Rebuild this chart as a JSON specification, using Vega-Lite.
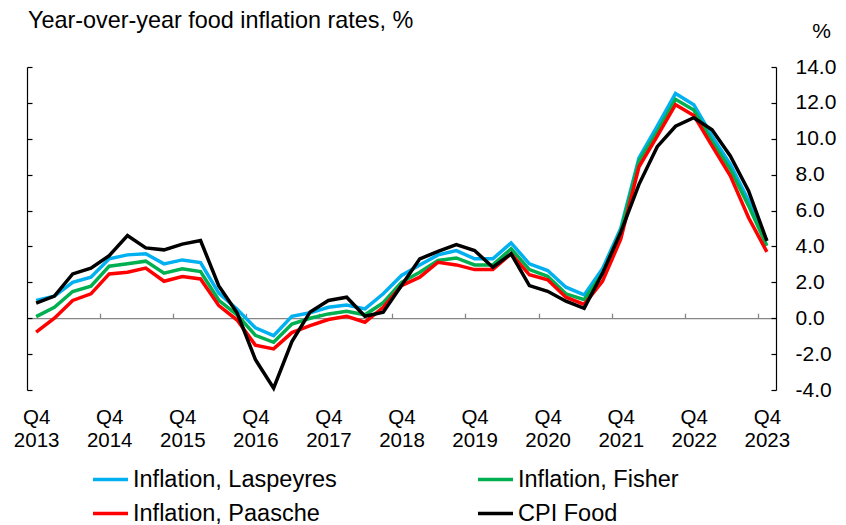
{
  "$schema": "https://vega.github.io/schema/vega-lite/v6.json",
  "width": 749,
  "height": 323,
  "autosize": {"type": "none"},
  "padding": {"left": 27, "top": 67, "right": 70, "bottom": 135},
  "config": {
    "font": "Liberation Sans",
    "view": {"stroke": null},
    "axis": {"grid": false, "labelColor": "black", "titleColor": "black"}
  },
  "title": {
    "text": "Year-over-year food inflation rates, %",
    "anchor": "start",
    "frame": "group",
    "fontSize": 23.4,
    "fontWeight": "normal",
    "color": "black",
    "baseline": "alphabetic",
    "offset": 4,
    "dx": 1,
    "dy": 35
  },
  "data": {
    "values": [
      {"idx": 0, "quarter": "2013Q4", "Inflation, Laspeyres": 0.99, "Inflation, Fisher": 0.09, "Inflation, Paasche": -0.78, "CPI Food": 0.84},
      {"idx": 1, "quarter": "2014Q1", "Inflation, Laspeyres": 1.23, "Inflation, Fisher": 0.61, "Inflation, Paasche": 0.0, "CPI Food": 1.23},
      {"idx": 2, "quarter": "2014Q2", "Inflation, Laspeyres": 2.0, "Inflation, Fisher": 1.49, "Inflation, Paasche": 0.99, "CPI Food": 2.47},
      {"idx": 3, "quarter": "2014Q3", "Inflation, Laspeyres": 2.29, "Inflation, Fisher": 1.78, "Inflation, Paasche": 1.36, "CPI Food": 2.79},
      {"idx": 4, "quarter": "2014Q4", "Inflation, Laspeyres": 3.31, "Inflation, Fisher": 2.9, "Inflation, Paasche": 2.47, "CPI Food": 3.49},
      {"idx": 5, "quarter": "2015Q1", "Inflation, Laspeyres": 3.53, "Inflation, Fisher": 3.03, "Inflation, Paasche": 2.56, "CPI Food": 4.61},
      {"idx": 6, "quarter": "2015Q2", "Inflation, Laspeyres": 3.59, "Inflation, Fisher": 3.18, "Inflation, Paasche": 2.79, "CPI Food": 3.92},
      {"idx": 7, "quarter": "2015Q3", "Inflation, Laspeyres": 3.03, "Inflation, Fisher": 2.51, "Inflation, Paasche": 2.06, "CPI Food": 3.81},
      {"idx": 8, "quarter": "2015Q4", "Inflation, Laspeyres": 3.25, "Inflation, Fisher": 2.75, "Inflation, Paasche": 2.32, "CPI Food": 4.13},
      {"idx": 9, "quarter": "2016Q1", "Inflation, Laspeyres": 3.1, "Inflation, Fisher": 2.6, "Inflation, Paasche": 2.19, "CPI Food": 4.33},
      {"idx": 10, "quarter": "2016Q2", "Inflation, Laspeyres": 1.4, "Inflation, Fisher": 1.0, "Inflation, Paasche": 0.7, "CPI Food": 1.8},
      {"idx": 11, "quarter": "2016Q3", "Inflation, Laspeyres": 0.5, "Inflation, Fisher": 0.19, "Inflation, Paasche": -0.1, "CPI Food": 0.3},
      {"idx": 12, "quarter": "2016Q4", "Inflation, Laspeyres": -0.53, "Inflation, Fisher": -0.95, "Inflation, Paasche": -1.5, "CPI Food": -2.3},
      {"idx": 13, "quarter": "2017Q1", "Inflation, Laspeyres": -0.97, "Inflation, Fisher": -1.34, "Inflation, Paasche": -1.71, "CPI Food": -3.9},
      {"idx": 14, "quarter": "2017Q2", "Inflation, Laspeyres": 0.11, "Inflation, Fisher": -0.32, "Inflation, Paasche": -0.8, "CPI Food": -1.3},
      {"idx": 15, "quarter": "2017Q3", "Inflation, Laspeyres": 0.3, "Inflation, Fisher": 0.0, "Inflation, Paasche": -0.41, "CPI Food": 0.35},
      {"idx": 16, "quarter": "2017Q4", "Inflation, Laspeyres": 0.61, "Inflation, Fisher": 0.24, "Inflation, Paasche": -0.07, "CPI Food": 0.99},
      {"idx": 17, "quarter": "2018Q1", "Inflation, Laspeyres": 0.74, "Inflation, Fisher": 0.39, "Inflation, Paasche": 0.11, "CPI Food": 1.17},
      {"idx": 18, "quarter": "2018Q2", "Inflation, Laspeyres": 0.52, "Inflation, Fisher": 0.19, "Inflation, Paasche": -0.22, "CPI Food": 0.11},
      {"idx": 19, "quarter": "2018Q3", "Inflation, Laspeyres": 1.36, "Inflation, Fisher": 0.86, "Inflation, Paasche": 0.61, "CPI Food": 0.33},
      {"idx": 20, "quarter": "2018Q4", "Inflation, Laspeyres": 2.38, "Inflation, Fisher": 2.0, "Inflation, Paasche": 1.82, "CPI Food": 1.82},
      {"idx": 21, "quarter": "2019Q1", "Inflation, Laspeyres": 2.97, "Inflation, Fisher": 2.56, "Inflation, Paasche": 2.29, "CPI Food": 3.31},
      {"idx": 22, "quarter": "2019Q2", "Inflation, Laspeyres": 3.53, "Inflation, Fisher": 3.22, "Inflation, Paasche": 3.12, "CPI Food": 3.72},
      {"idx": 23, "quarter": "2019Q3", "Inflation, Laspeyres": 3.77, "Inflation, Fisher": 3.36, "Inflation, Paasche": 2.97, "CPI Food": 4.1},
      {"idx": 24, "quarter": "2019Q4", "Inflation, Laspeyres": 3.31, "Inflation, Fisher": 2.97, "Inflation, Paasche": 2.71, "CPI Food": 3.77},
      {"idx": 25, "quarter": "2020Q1", "Inflation, Laspeyres": 3.31, "Inflation, Fisher": 2.97, "Inflation, Paasche": 2.71, "CPI Food": 2.84},
      {"idx": 26, "quarter": "2020Q2", "Inflation, Laspeyres": 4.2, "Inflation, Fisher": 3.87, "Inflation, Paasche": 3.59, "CPI Food": 3.59},
      {"idx": 27, "quarter": "2020Q3", "Inflation, Laspeyres": 3.03, "Inflation, Fisher": 2.71, "Inflation, Paasche": 2.42, "CPI Food": 1.82},
      {"idx": 28, "quarter": "2020Q4", "Inflation, Laspeyres": 2.66, "Inflation, Fisher": 2.34, "Inflation, Paasche": 2.14, "CPI Food": 1.5},
      {"idx": 29, "quarter": "2021Q1", "Inflation, Laspeyres": 1.73, "Inflation, Fisher": 1.36, "Inflation, Paasche": 1.17, "CPI Food": 0.95},
      {"idx": 30, "quarter": "2021Q2", "Inflation, Laspeyres": 1.3, "Inflation, Fisher": 1.03, "Inflation, Paasche": 0.77, "CPI Food": 0.55},
      {"idx": 31, "quarter": "2021Q3", "Inflation, Laspeyres": 2.75, "Inflation, Fisher": 2.5, "Inflation, Paasche": 2.05, "CPI Food": 2.5},
      {"idx": 32, "quarter": "2021Q4", "Inflation, Laspeyres": 5.0, "Inflation, Fisher": 4.87, "Inflation, Paasche": 4.4, "CPI Food": 4.78},
      {"idx": 33, "quarter": "2022Q1", "Inflation, Laspeyres": 8.94, "Inflation, Fisher": 8.76, "Inflation, Paasche": 8.44, "CPI Food": 7.46},
      {"idx": 34, "quarter": "2022Q2", "Inflation, Laspeyres": 10.7, "Inflation, Fisher": 10.4, "Inflation, Paasche": 10.15, "CPI Food": 9.56},
      {"idx": 35, "quarter": "2022Q3", "Inflation, Laspeyres": 12.52, "Inflation, Fisher": 12.2, "Inflation, Paasche": 11.9, "CPI Food": 10.7},
      {"idx": 36, "quarter": "2022Q4", "Inflation, Laspeyres": 11.9, "Inflation, Fisher": 11.6, "Inflation, Paasche": 11.3, "CPI Food": 11.17},
      {"idx": 37, "quarter": "2023Q1", "Inflation, Laspeyres": 10.15, "Inflation, Fisher": 9.87, "Inflation, Paasche": 9.6, "CPI Food": 10.5},
      {"idx": 38, "quarter": "2023Q2", "Inflation, Laspeyres": 8.57, "Inflation, Fisher": 8.3, "Inflation, Paasche": 7.93, "CPI Food": 9.04},
      {"idx": 39, "quarter": "2023Q3", "Inflation, Laspeyres": 6.54, "Inflation, Fisher": 6.26, "Inflation, Paasche": 5.6, "CPI Food": 7.09},
      {"idx": 40, "quarter": "2023Q4", "Inflation, Laspeyres": 4.31, "Inflation, Fisher": 4.04, "Inflation, Paasche": 3.7, "CPI Food": 4.31}
    ]
  },
  "transform": [
    {"fold": ["Inflation, Laspeyres", "Inflation, Fisher", "Inflation, Paasche", "CPI Food"], "as": ["series", "value"]}
  ],
  "layer": [
    {
      "mark": {"type": "line", "strokeWidth": 3.5},
      "encoding": {
        "x": {
          "field": "idx",
          "type": "quantitative",
          "scale": {"domain": [-0.5, 40.5], "nice": false, "zero": false},
          "axis": {
            "orient": "bottom",
            "title": null,
            "values": [0, 4, 8, 12, 16, 20, 24, 28, 32, 36, 40],
            "labelExpr": "['Q4', '' + (2013 + datum.value / 4)]",
            "domain": false,
            "ticks": false,
            "labelFontSize": 20.5,
            "labelPadding": 17,
            "labelLineHeight": 23.5,
            "labelFlush": false,
            "labelOverlap": false
          }
        },
        "y": {
          "field": "value",
          "type": "quantitative",
          "scale": {"domain": [-4, 14], "nice": false, "zero": false},
          "axis": {
            "orient": "left",
            "title": null,
            "values": [-4, -2, 0, 2, 4, 6, 8, 10, 12, 14],
            "labels": false,
            "tickSize": -5,
            "domainColor": "black",
            "tickColor": "black",
            "domainWidth": 1.2,
            "tickWidth": 1.2
          }
        },
        "color": {
          "field": "series",
          "type": "nominal",
          "scale": {
            "domain": ["Inflation, Laspeyres", "Inflation, Fisher", "Inflation, Paasche", "CPI Food"],
            "range": ["#00B0F0", "#00B050", "#FF0000", "#000000"]
          },
          "legend": {
            "title": null,
            "orient": "none",
            "direction": "horizontal",
            "legendX": 64,
            "legendY": 393,
            "columns": 2,
            "columnPadding": 134,
            "rowPadding": 3,
            "symbolType": "stroke",
            "symbolSize": 1225,
            "symbolStrokeWidth": 3.5,
            "labelFontSize": 23.5,
            "labelOffset": 3,
            "labelColor": "black",
            "labelLimit": 400
          }
        }
      }
    },
    {
      "mark": {"type": "line", "opacity": 0},
      "encoding": {
        "x": {
          "field": "idx",
          "type": "quantitative",
          "axis": {
            "orient": "top",
            "offset": -251.2,
            "title": null,
            "values": [3.5, 7.5, 11.5, 15.5, 19.5, 23.5, 27.5, 31.5, 35.5, 39.5],
            "labels": false,
            "tickSize": 5,
            "domainColor": "#868686",
            "tickColor": "#868686",
            "domainWidth": 1.3,
            "tickWidth": 1.3
          }
        },
        "y": {
          "field": "value",
          "type": "quantitative",
          "axis": {
            "orient": "right",
            "title": "%",
            "titleAngle": 0,
            "titleX": 45,
            "titleY": -30,
            "titleAlign": "center",
            "titleBaseline": "alphabetic",
            "titleFontSize": 21,
            "titleFontWeight": "normal",
            "values": [-4, -2, 0, 2, 4, 6, 8, 10, 12, 14],
            "labelExpr": "(datum.value < 0 ? '-' : '') + format(abs(datum.value), '.1f')",
            "labelFontSize": 21,
            "labelPadding": 24,
            "labelAlign": "left",
            "labelBaseline": "middle",
            "tickSize": -5,
            "domainColor": "black",
            "tickColor": "black",
            "domainWidth": 1.2,
            "tickWidth": 1.2
          }
        }
      }
    }
  ],
  "resolve": {"axis": {"x": "independent", "y": "independent"}}
}
